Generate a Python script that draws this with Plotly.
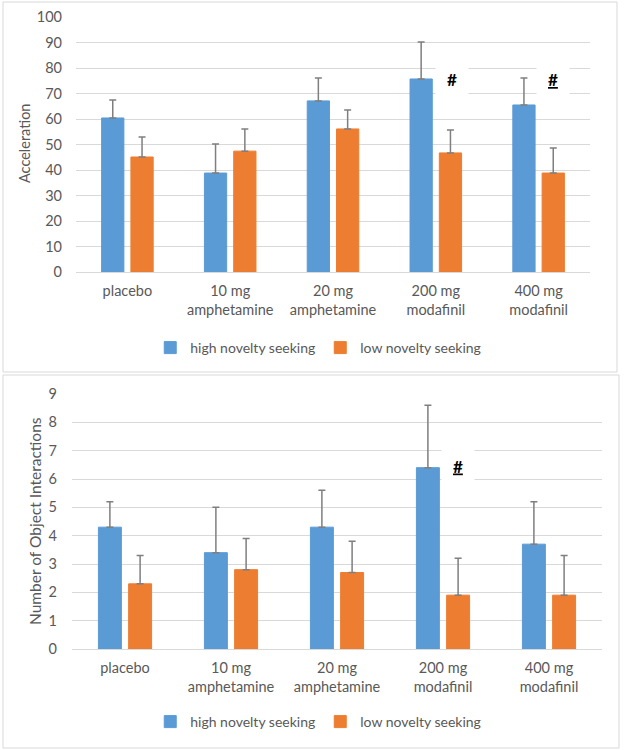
import plotly.graph_objects as go

categories = ["placebo", "10 mg<br>amphetamine", "20 mg<br>amphetamine",
              "200 mg<br>modafinil", "400 mg<br>modafinil"]
series_names = ["high novelty seeking", "low novelty seeking"]

acc_high = [60.4, 38.8, 67.1, 75.7, 65.5]
acc_high_err = [7.1, 11.4, 9.0, 14.5, 10.6]
acc_low = [45.1, 47.4, 56.1, 46.7, 38.8]
acc_low_err = [7.8, 8.7, 7.4, 9.0, 9.8]

obj_high = [4.3, 3.4, 4.3, 6.4, 3.7]
obj_high_err = [0.9, 1.6, 1.3, 2.2, 1.5]
obj_low = [2.3, 2.8, 2.7, 1.9, 1.9]
obj_low_err = [1.0, 1.1, 1.1, 1.3, 1.4]

acc_ticks = [0, 10, 20, 30, 40, 50, 60, 70, 80, 90, 100]
obj_ticks = [0, 1, 2, 3, 4, 5, 6, 7, 8, 9]

BLUE = "#5B9BD5"
ORANGE = "#ED7D31"
GRID = "#D9D9D9"
TXT = "#595959"
ERR = "#7F7F7F"
FONT = "Lato"

W, H = 624, 750


def px_x(p):
    return p / W


def px_y(p):
    return 1 - p / H


fig = go.Figure()


def add_bar(name, vals, errs, color, xa, ya, legend, show):
    fig.add_trace(go.Bar(
        name=name, x=categories, y=vals,
        marker=dict(color=color, line=dict(color=color, width=1)),
        error_y=dict(type="data", symmetric=False, array=errs,
                     arrayminus=[0] * len(errs), color=ERR,
                     thickness=1.5, width=3.5),
        xaxis=xa, yaxis=ya, legend=legend, showlegend=show,
    ))


add_bar(series_names[0], acc_high, acc_high_err, BLUE, "x", "y", "legend", True)
add_bar(series_names[1], acc_low, acc_low_err, ORANGE, "x", "y", "legend", True)
add_bar(series_names[0], obj_high, obj_high_err, BLUE, "x2", "y2", "legend2", True)
add_bar(series_names[1], obj_low, obj_low_err, ORANGE, "x2", "y2", "legend2", True)

axis_font = dict(family=FONT, size=14.5, color=TXT)

fig.update_layout(
    width=W, height=H,
    margin=dict(l=0, r=0, t=0, b=0, autoexpand=False),
    paper_bgcolor="white", plot_bgcolor="white",
    barmode="group", bargap=0.43, bargroupgap=0.24,
    font=dict(family=FONT, size=14, color=TXT),
    xaxis=dict(domain=[px_x(76), px_x(590)], anchor="y", automargin=False,
               tickfont=axis_font, showgrid=False, showline=True,
               linecolor=GRID, linewidth=1, ticks="", ticklabelstandoff=6),
    yaxis=dict(domain=[px_y(272), px_y(17)], anchor="x", range=[0, 100],
               automargin=False,
               tickvals=acc_ticks, tickfont=axis_font, showgrid=True,
               gridcolor=GRID, gridwidth=1, zeroline=False, showline=False,
               ticks="", ticklabelstandoff=13),
    xaxis2=dict(domain=[px_x(72), px_x(602)], anchor="y2", automargin=False,
                tickfont=axis_font, showgrid=False, showline=True,
                linecolor=GRID, linewidth=1, ticks="", ticklabelstandoff=6),
    yaxis2=dict(domain=[px_y(649), px_y(394)], anchor="x2", range=[0, 9],
                automargin=False,
                tickvals=obj_ticks, tickfont=axis_font, showgrid=True,
                gridcolor=GRID, gridwidth=1, zeroline=False, showline=False,
                ticks="", ticklabelstandoff=14),
    legend=dict(orientation="h", x=0.51, y=px_y(348), xanchor="center",
                yanchor="middle", font=dict(family=FONT, size=14, color=TXT),
                bgcolor="rgba(0,0,0,0)", itemwidth=30),
    legend2=dict(orientation="h", x=0.51, y=px_y(722), xanchor="center",
                 yanchor="middle", font=dict(family=FONT, size=14, color=TXT),
                 bgcolor="rgba(0,0,0,0)", itemwidth=30),
)

# panel borders
fig.add_shape(type="rect", xref="paper", yref="paper",
              x0=px_x(3), x1=px_x(617), y0=px_y(372), y1=px_y(2),
              line=dict(color=GRID, width=1), layer="below")
fig.add_shape(type="rect", xref="paper", yref="paper",
              x0=px_x(3), x1=px_x(619), y0=px_y(748), y1=px_y(375),
              line=dict(color=GRID, width=1), layer="below")

# axis titles
fig.add_annotation(text="Acceleration", xref="paper", yref="paper",
                   x=px_x(25), y=px_y(144), xanchor="center", yanchor="middle",
                   textangle=-90, showarrow=False,
                   font=dict(family=FONT, size=14.5, color=TXT))
fig.add_annotation(text="Number of Object Interactions", xref="paper", yref="paper",
                   x=px_x(35), y=px_y(521), xanchor="center", yanchor="middle",
                   textangle=-90, showarrow=False,
                   font=dict(family=FONT, size=15.5, color=TXT))

# significance marks
hash_font = dict(family=FONT, size=17, color="black")
fig.add_annotation(text="<b>#</b>", x=categories[3], y=75.5, xref="x", yref="y",
                   xshift=16, showarrow=False, bgcolor="white", width=30, height=29,
                   font=hash_font)
fig.add_annotation(text="<b><u>#</u></b>", x=categories[4], y=75.5, xref="x", yref="y",
                   xshift=14, showarrow=False, bgcolor="white", width=30, height=29,
                   font=hash_font)
fig.add_annotation(text="<b><u>#</u></b>", x=categories[3], y=6.45, xref="x2", yref="y2",
                   xshift=15, showarrow=False, bgcolor="white", width=30, height=30,
                   font=hash_font)

fig.write_html("out.html", config={"displayModeBar": False},
               post_script="document.body.style.margin='0';")
